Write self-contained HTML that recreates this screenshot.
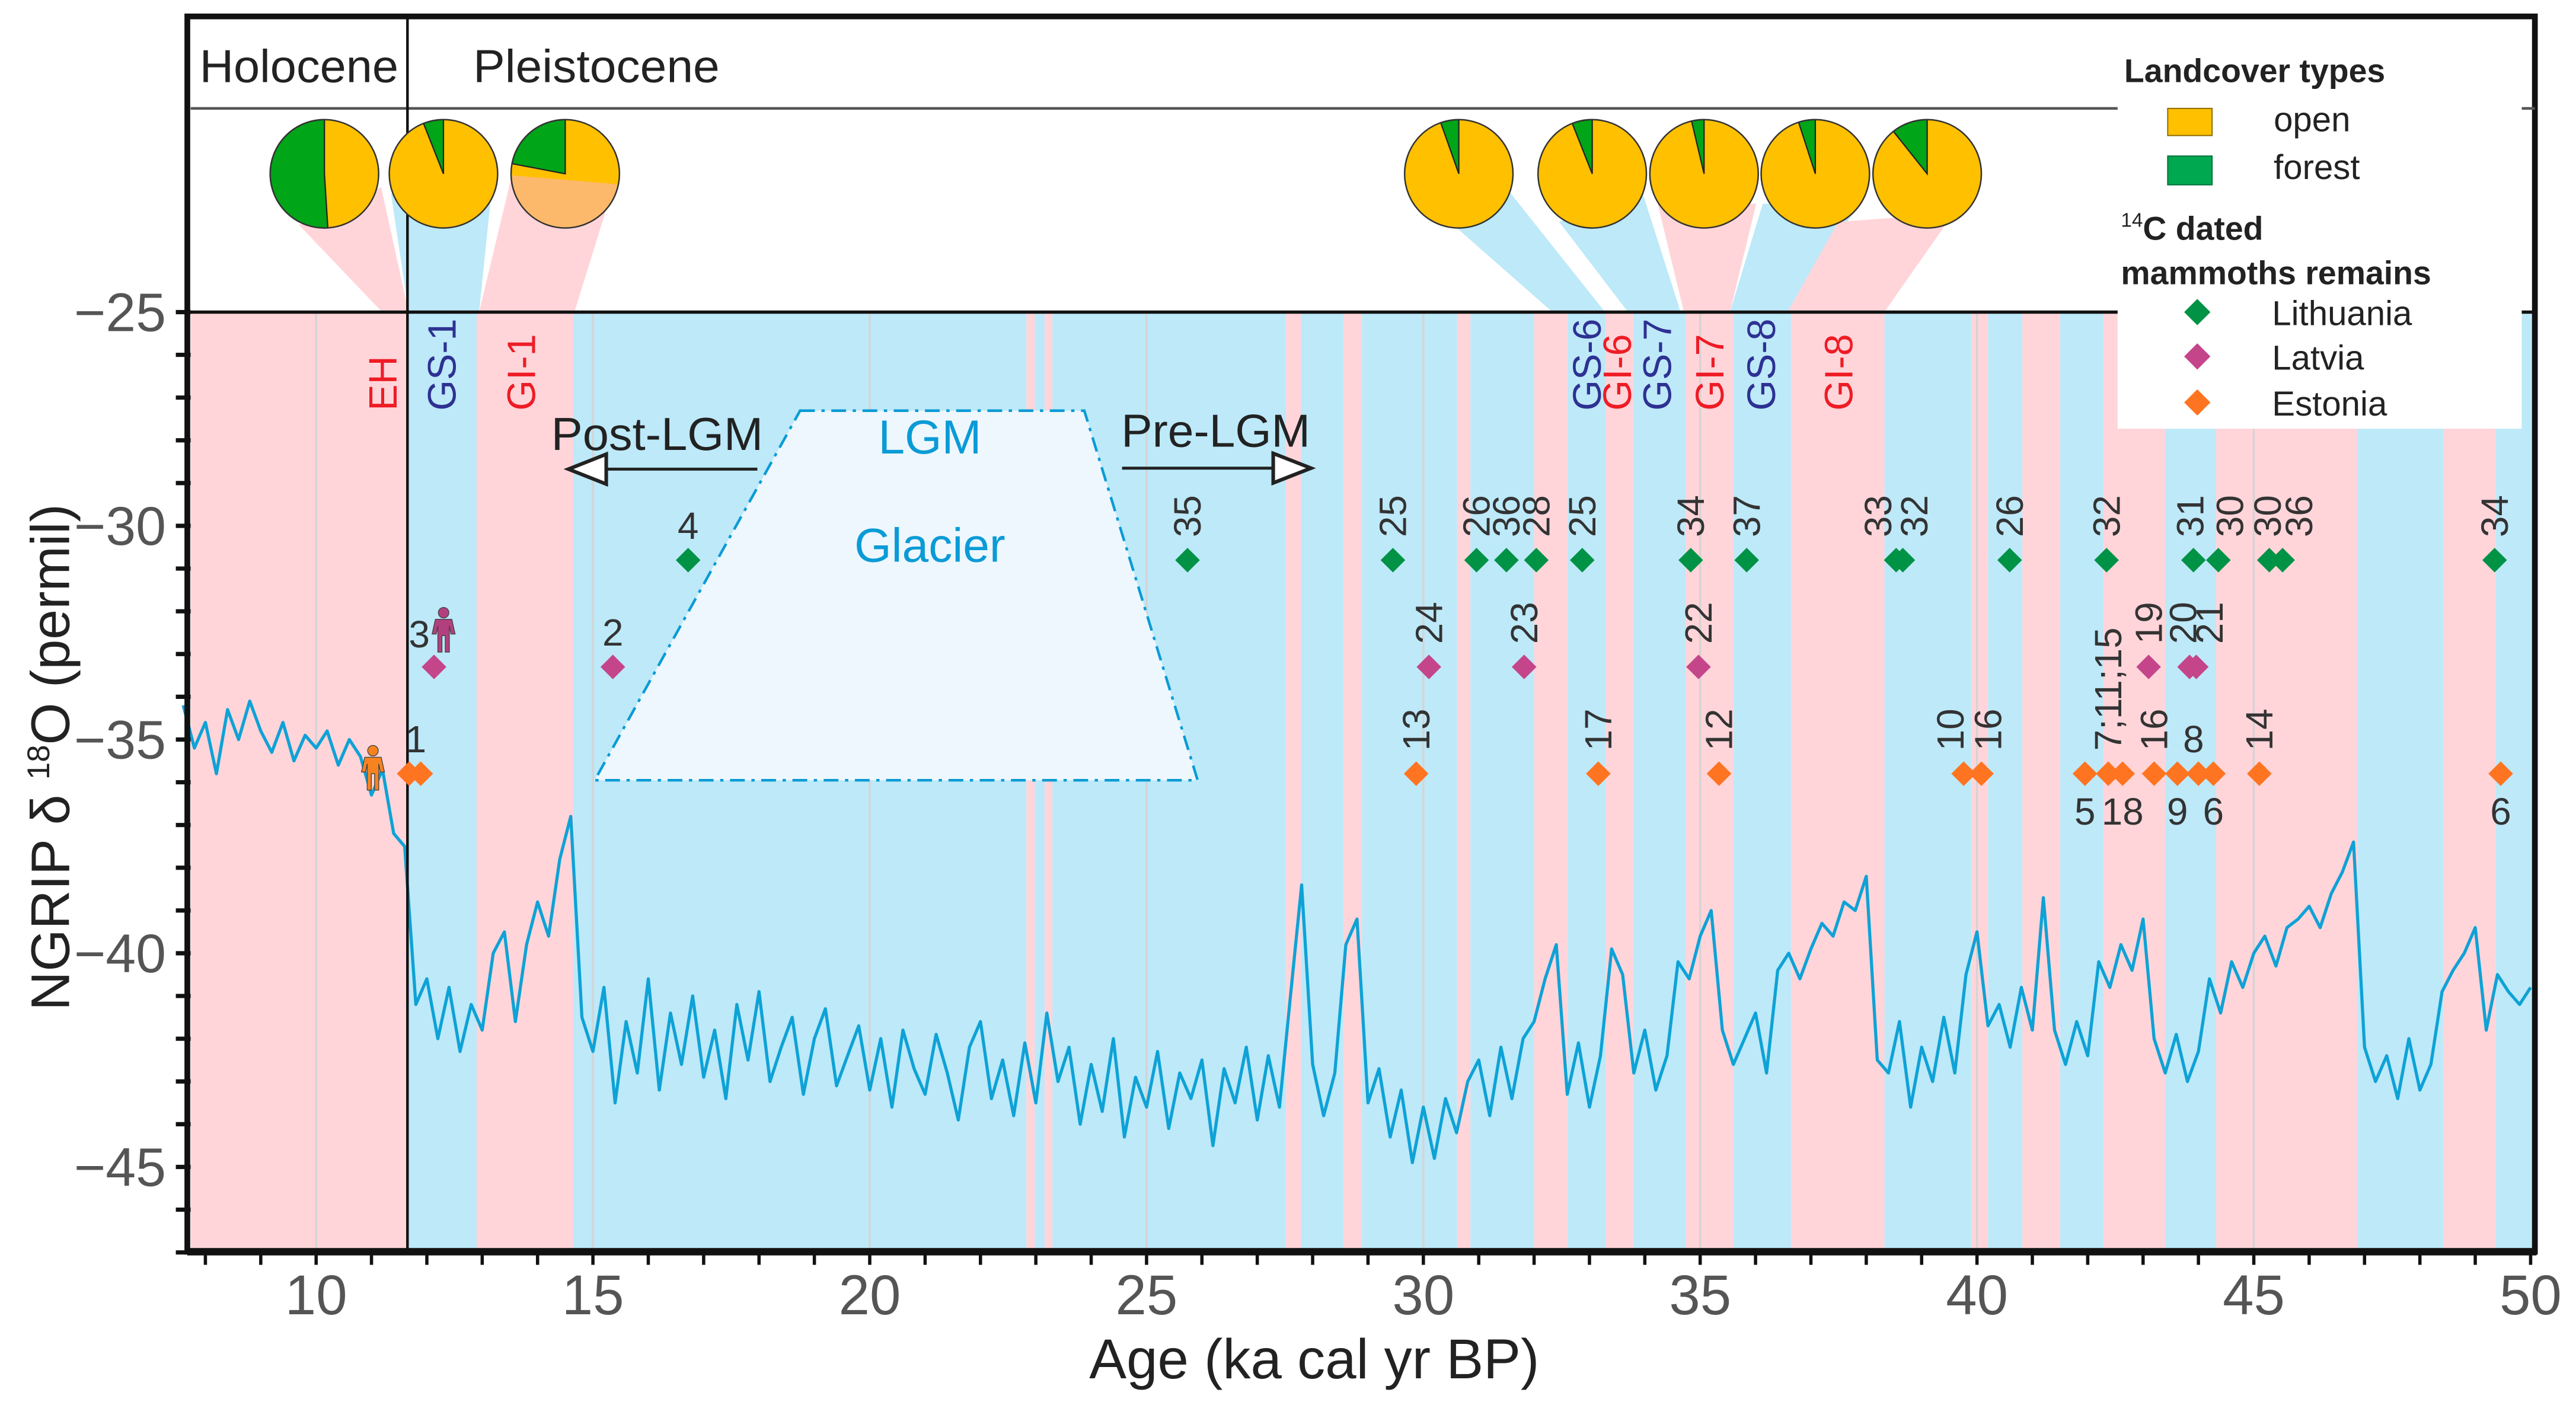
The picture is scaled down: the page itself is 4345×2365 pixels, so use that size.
<!DOCTYPE html>
<html><head><meta charset="utf-8"><title>NGRIP d18O with mammoth remains</title>
<style>
html,body{margin:0;padding:0;background:#fff;}
svg{display:block;font-family:"Liberation Sans",Arial,sans-serif;}
</style></head>
<body>
<svg id="chart" xmlns="http://www.w3.org/2000/svg" width="4345" height="2365" viewBox="0 0 1568 853.5">
<rect x="0" y="0" width="1568" height="853.5" fill="#fff"/>
<g id="bands"></g>
<g id="funnels"></g>
<g id="grid"></g>
<g id="glacier"></g>
<g id="curve"></g>
<g id="frame"></g>
<g id="pies"></g>
<g id="stages"></g>
<g id="marks"></g>
<g id="axes"></g>
<g id="legend"></g>
</svg>
<script>
// ---- data ----
const bandEdges = [7.67,11.65,12.9,14.65,22.83,22.98,23.16,23.3,27.52,27.79,28.56,28.89,30.61,30.85,32.0,32.6,33.29,33.79,34.74,35.6,36.64,38.33,39.9,40.2,40.82,41.5,42.28,43.4,44.32,46.87,48.42,49.37,50.1];
const bandTypes = ['w','c','w','c','w','c','w','c','w','c','w','c','w','c','w','c','w','c','w','c','w','c','w','c','w','c','w','c','w','c','w','c'];
const curveStart = 7.6;
const curveStep = 0.2;
const curveValues = [
-34.2,-35.2,
-34.6,-35.8,-34.3,-35.0,-34.1,
-34.8,-35.3,-34.6,-35.5,-34.9,
-35.2,-34.8,-35.6,-35.0,-35.4,
-36.3,-35.7,-37.2,-37.5,-41.2,
-40.6,-42.0,-40.8,-42.3,-41.2,
-41.8,-40.0,-39.5,-41.6,-39.8,
-38.8,-39.6,-37.8,-36.8,-41.5,
-42.3,-40.8,-43.5,-41.6,-42.8,
-40.6,-43.2,-41.4,-42.6,-41.0,
-42.9,-41.8,-43.4,-41.2,-42.5,
-40.9,-43.0,-42.2,-41.5,-43.3,
-42.0,-41.3,-43.1,-42.4,-41.7,
-43.2,-42.0,-43.6,-41.8,-42.7,
-43.3,-41.9,-42.8,-43.9,-42.2,
-41.6,-43.4,-42.5,-43.8,-42.1,
-43.5,-41.4,-43.0,-42.2,-44.0,
-42.6,-43.7,-42.0,-44.3,-42.9,
-43.6,-42.3,-44.1,-42.8,-43.4,
-42.5,-44.5,-42.7,-43.5,-42.2,
-43.9,-42.4,-43.6,-41.0,-38.4,
-42.6,-43.8,-42.8,-39.8,-39.2,
-43.5,-42.7,-44.3,-43.2,-44.9,
-43.6,-44.8,-43.4,-44.2,-43.0,
-42.5,-43.8,-42.2,-43.4,-42.0,
-41.6,-40.6,-39.8,-43.3,-42.1,
-43.6,-42.4,-39.9,-40.5,-42.8,
-41.8,-43.2,-42.4,-40.2,-40.6,
-39.6,-39.0,-41.8,-42.6,-42.0,
-41.4,-42.8,-40.4,-40.0,-40.6,
-39.9,-39.3,-39.6,-38.8,-39.0,
-38.2,-42.5,-42.8,-41.6,-43.6,
-42.2,-43.0,-41.5,-42.8,-40.5,
-39.5,-41.7,-41.2,-42.2,-40.8,
-41.8,-38.7,-41.8,-42.6,-41.6,
-42.4,-40.2,-40.8,-39.8,-40.4,
-39.2,-42.0,-42.8,-41.9,-43.0,
-42.3,-40.6,-41.4,-40.2,-40.8,
-40.0,-39.6,-40.3,-39.4,-39.2,
-38.9,-39.4,-38.6,-38.1,-37.4,
-42.2,-43.0,-42.4,-43.4,-42.0,
-43.2,-42.6,-40.9,-40.4,-40.0,
-39.4,-41.8,-40.5,-40.9,-41.2,
-40.8];
const pieAges = [10.15,12.3,14.5,30.64,33.05,35.07,37.08,39.1];
const pieForest = [0.51,0.06,0.22,0.054,0.06,0.037,0.05,0.107];
const ltAges = [16.72,25.74,29.45,30.96,31.5,32.04,32.87,34.83,35.84,38.54,38.66,40.59,42.34,43.91,44.36,45.28,45.52,49.35];
const ltLabels = ['4','35','25','26','36','28','25','34','37','33','32','26','32','31','30','30','36','34'];
const lvAges = [12.13,15.36,30.1,31.82,34.97,43.1,43.84,43.96];
const lvLabels = ['3','2','24','23','22','19','20','21'];
const eeAges = [11.68,11.89,29.87,33.16,35.34,39.76,40.08,41.95,42.37,42.63,43.2,43.62,44.0,44.27,45.1,49.46];
const eeLabels = ['','1','13','17','12','10','16','5','7;11;15','18','16','9','8','6','14','6'];
const yTicks = [-25,-30,-35,-40,-45];
const xTicks = [10,15,20,25,30,35,40,45,50];

// ---- scales ----
const X0=192.4, PXKA=33.7;
function xs(a){return X0+(a-10)*PXKA;}
function ys(v){return 190+(-25-v)*26.02;}
const NS='http://www.w3.org/2000/svg';
function mk(tag,attrs,parent){const e=document.createElementNS(NS,tag);for(const k in attrs)e.setAttribute(k,attrs[k]);parent.appendChild(e);return e;}
const PL=116, PR=1543, PT=10, PB=762, YTOP=190;

// bands
const gB=document.getElementById('bands');
for(let i=0;i<bandTypes.length;i++){
  const x1=Math.max(PL,xs(bandEdges[i])), x2=Math.min(PR,xs(bandEdges[i+1]));
  const r=mk('rect',{x:x1,y:YTOP,width:x2-x1,height:PB-YTOP,fill:bandTypes[i]==='w'?'#ffd5da':'#bde9f9'},gB);
  
  
}
// funnels
const gF=document.getElementById('funnels');
const funnelPts=[
 ['#ffd5da','182,137 232,114 248.7,190 232.6,190'],
 ['#bde9f9','238,118 299,118 291.6,190 248.7,190'],
 ['#ffd5da','311,109 372,118 349.6,190 291.6,190'],
 ['#bde9f9','887,139 919,117 977,190 945,190'],
 ['#bde9f9','949,135 1000,118 1023,190 991,190'],
 ['#ffd5da','1009,124 1069,124 1053,190 1025,190'],
 ['#bde9f9','1073,124 1131,125 1088,190 1053,190'],
 ['#ffd5da','1119,135 1189,130 1147,190 1088,190']];
funnelPts.forEach(f=>{const p=mk('polygon',{points:f[1],fill:f[0]},gF);
 
 });
// grid
const gG=document.getElementById('grid');
xTicks.forEach(t=>{if(t>=50)return;const l=mk('line',{x1:xs(t),x2:xs(t),y1:YTOP,y2:PB,stroke:'#d4d4d4','stroke-width':1.2},gG);
 
 });
// glacier
const gL=document.getElementById('glacier');
mk('polygon',{points:'487,250 660,250 729,475 362,475',fill:'#eef7fd',stroke:'#0a9bd6','stroke-width':1.6,'stroke-dasharray':'9,4,2,4',},gL);
let t=mk('text',{x:566,y:276,'font-size':29,fill:'#0a9bd6','text-anchor':'middle',},gL);t.textContent='LGM';
t=mk('text',{x:566,y:342,'font-size':29,fill:'#0a9bd6','text-anchor':'middle',},gL);t.textContent='Glacier';
t=mk('text',{x:400,y:274,'font-size':28,fill:'#222','text-anchor':'middle',textLength:129,lengthAdjust:'spacingAndGlyphs',},gL);t.textContent='Post-LGM';
t=mk('text',{x:740,y:272,'font-size':28,fill:'#222','text-anchor':'middle',textLength:115,lengthAdjust:'spacingAndGlyphs',},gL);t.textContent='Pre-LGM';
mk('line',{x1:461,y1:285.6,x2:368,y2:285.6,stroke:'#222','stroke-width':1.8,},gL);
mk('polygon',{points:'346,285.6 369,276.5 369,294.7',fill:'#fff',stroke:'#222','stroke-width':2.2,},gL);
mk('line',{x1:683,y1:285,x2:775,y2:285,stroke:'#222','stroke-width':1.8,},gL);
mk('polygon',{points:'798,285 775,276 775,294',fill:'#fff',stroke:'#222','stroke-width':2.2,},gL);
// curve
const gC=document.getElementById('curve');
let d='';
curveValues.forEach((v,i)=>{const a=curveStart+i*curveStep;const px=Math.min(PR,xs(a));d+=(i?'L':'M')+px.toFixed(1)+','+ys(v).toFixed(1);});
const cp=mk('path',{d:d,fill:'none',stroke:'#0ea2d6','stroke-width':1.9,'stroke-linejoin':'round'},gC);


// frame
const gFr=document.getElementById('frame');
mk('rect',{x:PL-2,y:PT,width:PR-PL+2,height:PB-PT,fill:'none',stroke:'#111','stroke-width':3.5,},gFr);
mk('line',{x1:PL,x2:PR,y1:66,y2:66,stroke:'#555','stroke-width':1.6,},gFr);
mk('line',{x1:PL,x2:PR,y1:YTOP,y2:YTOP,stroke:'#111','stroke-width':2,},gFr);
mk('line',{x1:xs(11.65),x2:xs(11.65),y1:PT,y2:PB,stroke:'#111','stroke-width':1.6,},gFr);
t=mk('text',{x:182,y:50,'font-size':28,fill:'#222','text-anchor':'middle',textLength:121,lengthAdjust:'spacingAndGlyphs',},gFr);t.textContent='Holocene';
t=mk('text',{x:363,y:50,'font-size':28,fill:'#222','text-anchor':'middle',textLength:150,lengthAdjust:'spacingAndGlyphs',},gFr);t.textContent='Pleistocene';
// pies
const gP=document.getElementById('pies');
const PY=105.8, R=33;
pieAges.forEach((a,i)=>{
  const cx=xs(a), f=pieForest[i];
  const g=mk('g',{},gP);
  
  
  mk('circle',{cx:cx,cy:PY,r:R,fill:'#ffc000'},g);
  if(i===2){
    mk('path',{d:`M${cx-33.2},${PY+0.9} L${cx+32.2},${PY+6.4} A${R},${R} 0 0 1 ${cx-33.2},${PY+0.9}Z`,fill:'#fdb96b'},g);
  }
  const ang=-Math.PI/2-f*2*Math.PI;
  const ex=cx+R*Math.cos(ang), ey=PY+R*Math.sin(ang);
  const large=f>0.5?1:0;
  mk('path',{d:`M${cx},${PY} L${cx},${PY-R} A${R},${R} 0 ${large} 0 ${ex.toFixed(2)},${ey.toFixed(2)} Z`,fill:'#00a518',stroke:'#222','stroke-width':0.8},g);
  mk('circle',{cx:cx,cy:PY,r:R,fill:'none',stroke:'#333','stroke-width':0.9},g);
});
// stage labels
const gS=document.getElementById('stages');
const stageNames=['EH','GS-1','GI-1','GS-6','GI-6','GS-7','GI-7','GS-8','GI-8'];
const stageAges=[11.2,12.27,13.7,32.95,33.5,34.22,35.17,36.1,37.5];
stageNames.forEach((s,i)=>{
  const x=xs(stageAges[i])+8.5, y=250;
  const tx=mk('text',{x:x,y:y,'font-size':24,fill:s.startsWith('GS')?'#2e3192':'#ee1c25','text-anchor':'start',transform:`rotate(-90 ${x} ${y})`},gS);
  
  
  tx.textContent=s;
});
// markers
const gM=document.getElementById('marks');
const ROWY={lt:341,lv:406,ee:471};
function diamond(cx,cy,col,s){return mk('polygon',{points:`${cx},${cy-s} ${cx+s},${cy} ${cx},${cy+s} ${cx-s},${cy}`,fill:col},gM);}
function label(txt,x,y,rot,anchor){
  const tt=mk('text',{x:x,y:y,'font-size':23,fill:'#333','text-anchor':anchor||'middle'},gM);
  if(rot)tt.setAttribute('transform',`rotate(-90 ${x} ${y})`);
  tt.textContent=txt;return tt;}
const horizAbove={'4':1,'3':1,'2':1,'1':1,'8':1};
const below={'5':1,'18':1,'9':1,'6':1};
const ltShift=[0,0,0,0,0,0,0,0,0,-11,7,0,0,-2,7,-1,10,0];
ltAges.forEach((a,i)=>{const x=xs(a),y=ROWY.lt;const m=diamond(x,y,'#009245',7.5);
  
  
  const L=ltLabels[i];let lb;
  if(horizAbove[L])lb=label(L,x,y-13);else lb=label(L,x+8+ltShift[i],y-14,true,'start');
  
  });
const lvShift=[0,0,0,0,0,0,-4,8];
lvAges.forEach((a,i)=>{const x=xs(a),y=ROWY.lv;const m=diamond(x,y,'#c5458a',7.5);
  
  
  const L=lvLabels[i];let lb;
  if(L==='3')lb=label(L,x-9,y-12);
  else if(horizAbove[L])lb=label(L,x,y-13);
  else lb=label(L,x+8+lvShift[i],y-14,true,'start');
  
  });
const eeShift=[0,0,0,0,0,-8,4,0,0,0,0,0,0,0,0,0];
eeAges.forEach((a,i)=>{const x=xs(a),y=ROWY.ee;const m=diamond(x,y,'#ff7420',7.5);
  
  
  const L=eeLabels[i];if(!L)return;let lb;
  if(below[L])lb=label(L,x,y+31);
  else if(horizAbove[L])lb=label(L,x-3,y-13);
  else lb=label(L,x+8+eeShift[i],y-14,true,'start');
  
  });
// person icons
function person(cx,cy,col,name){const g=mk('g',{},gM);
  
  
  mk('circle',{cx:cx,cy:cy-11,r:3.2,fill:col,stroke:'#444','stroke-width':0.5},g);
  mk('path',{d:`M${cx-5},${cy-7} h10 l2,9 h-2.5 l-1,-5 v16 h-2.5 v-10 h-2 v10 h-2.5 v-16 l-1,5 h-2.5 z`,fill:col,stroke:'#444','stroke-width':0.5},g);}
person(227,468,'#f7831f','estonia-human-icon');
person(270,384,'#b2407e','latvia-human-icon');
// axes
const gA=document.getElementById('axes');
for(let v=-25;v>=-47;v--){const l=mk('line',{x1:107,x2:PL,y1:ys(v),y2:ys(v),stroke:'#111','stroke-width':2.6},gA);
  
  }
yTicks.forEach(v=>{const tt=mk('text',{x:101,y:ys(v)+11.5,'font-size':33,fill:'#555','text-anchor':'end'},gA);
  
  
  tt.textContent='\u2212'+Math.abs(v);});
mk('line',{x1:PL-2,x2:PR+1,y1:PB,y2:PB,stroke:'#111','stroke-width':4.5,},gA);
for(let a=8;a<=50;a++){const l=mk('line',{x1:xs(a),x2:xs(a),y1:PB,y2:770,stroke:'#111','stroke-width':2},gA);
  
  }
xTicks.forEach(a=>{const tt=mk('text',{x:xs(a),y:800,'font-size':34,fill:'#555','text-anchor':'middle'},gA);
  
  
  tt.textContent=a;});
t=mk('text',{x:800,y:839,'font-size':34,fill:'#222','text-anchor':'middle',},gA);t.textContent='Age (ka cal yr BP)';
t=mk('text',{x:42,y:461,'font-size':33,fill:'#222','text-anchor':'middle',transform:'rotate(-90 42 461)',},gA);
t.innerHTML='NGRIP \u03b4 <tspan font-size="19" dy="-12">18</tspan><tspan dy="12">O (permil)</tspan>';
// legend
const gLg=document.getElementById('legend');
mk('rect',{x:1289,y:25,width:246,height:236,fill:'#fff',},gLg);
t=mk('text',{x:1293,y:50,'font-size':20,'font-weight':'bold',fill:'#222',},gLg);t.textContent='Landcover types';
mk('rect',{x:1319.5,y:66,width:27,height:16.5,fill:'#ffc000',stroke:'#8a6a00','stroke-width':0.7,},gLg);
t=mk('text',{x:1384,y:80,'font-size':21,fill:'#222',},gLg);t.textContent='open';
mk('rect',{x:1319.5,y:95,width:27,height:17.5,fill:'#00a84f',stroke:'#00703a','stroke-width':0.7,},gLg);
t=mk('text',{x:1384,y:109,'font-size':21,fill:'#222',},gLg);t.textContent='forest';
t=mk('text',{x:1291,y:146,'font-size':20,'font-weight':'bold',fill:'#222',},gLg);
t.innerHTML='<tspan font-size="12" dy="-8" font-weight="normal">14</tspan><tspan dy="8">C dated</tspan>';
t=mk('text',{x:1291,y:173,'font-size':20,'font-weight':'bold',fill:'#222',},gLg);t.textContent='mammoths remains';
[['Lithuania','#009245',190],['Latvia','#c5458a',217],['Estonia','#ff7420',245]].forEach(e=>{
  const p=mk('polygon',{points:`1337.5,${e[2]-8} 1345.5,${e[2]} 1337.5,${e[2]+8} 1329.5,${e[2]}`,fill:e[1]},gLg);
  
  
  const tt=mk('text',{x:1383,y:e[2]+8,'font-size':21,fill:'#222'},gLg);
  
  
  tt.textContent=e[0];});
</script>
</body></html>
